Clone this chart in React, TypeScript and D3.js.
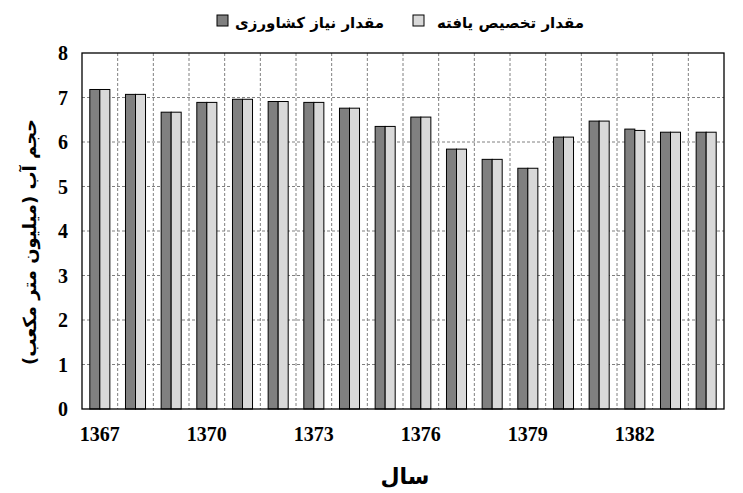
import React, { useEffect, useRef } from 'react';
import * as d3 from 'd3';

const years = [1367, 1368, 1369, 1370, 1371, 1372, 1373, 1374, 1375, 1376, 1377, 1378, 1379, 1380, 1381, 1382, 1383, 1384];
const needValues = [7.18, 7.07, 6.67, 6.89, 6.96, 6.91, 6.89, 6.76, 6.35, 6.56, 5.84, 5.61, 5.41, 6.11, 6.47, 6.29, 6.22, 6.22];
const allocValues = [7.18, 7.07, 6.67, 6.89, 6.96, 6.91, 6.89, 6.76, 6.35, 6.56, 5.84, 5.61, 5.41, 6.11, 6.47, 6.26, 6.22, 6.22];
const yTicks = [0, 1, 2, 3, 4, 5, 6, 7, 8];
const xTickYears = [1367, 1370, 1373, 1376, 1379, 1382];
const seriesNames = ['مقدار نیاز کشاورزی', 'مقدار تخصیص یافته'];
const yTitle = 'حجم آب (میلیون متر مکعب)';
const xTitle = 'سال';

const App: React.FC = () => {
  const svgRef = useRef<SVGSVGElement>(null);

  useEffect(() => {
    const svg = d3.select(svgRef.current);
    svg.selectAll('*').remove();

    const W = 743, H = 493;
    const margin = { top: 53, right: 19, bottom: 84, left: 82 };
    const width = W - margin.left - margin.right;
    const height = H - margin.top - margin.bottom;
    const num = "'Liberation Serif', 'Times New Roman', serif";
    const fa = "'DejaVu Sans', sans-serif";
    const dark = '#808080';
    const light = '#d9d9d9';

    svg.attr('width', W).attr('height', H);
    const g = svg.append('g').attr('transform', `translate(${margin.left},${margin.top})`);

    const x0 = d3.scaleBand<number>().domain(years).range([0, width]).padding(0);
    const x1 = d3.scaleBand<string>().domain(['need', 'alloc']).range([0, x0.bandwidth()]).paddingInner(0).paddingOuter(0.78);
    const y = d3.scaleLinear().domain([0, 8]).range([height, 0]);

    // grid
    g.selectAll('.hgrid')
      .data(yTicks.filter(t => t > 0 && t < 8))
      .enter()
      .append('line')
      .attr('x1', 0).attr('x2', width)
      .attr('y1', d => y(d)).attr('y2', d => y(d))
      .attr('stroke', '#808080').attr('stroke-width', 1).attr('stroke-dasharray', '3,2');

    g.selectAll('.vgrid')
      .data(years.slice(1))
      .enter()
      .append('line')
      .attr('x1', d => x0(d) as number).attr('x2', d => x0(d) as number)
      .attr('y1', 0).attr('y2', height)
      .attr('stroke', '#808080').attr('stroke-width', 1).attr('stroke-dasharray', '3,2');

    // bars
    const groups = g.selectAll('.bar-group')
      .data(years)
      .enter()
      .append('g')
      .attr('transform', d => `translate(${x0(d)},0)`);

    groups.append('rect')
      .attr('x', x1('need') as number)
      .attr('y', (_d, i) => y(needValues[i]))
      .attr('width', x1.bandwidth())
      .attr('height', (_d, i) => height - y(needValues[i]))
      .attr('fill', dark).attr('stroke', '#000').attr('stroke-width', 1);

    groups.append('rect')
      .attr('x', x1('alloc') as number)
      .attr('y', (_d, i) => y(allocValues[i]))
      .attr('width', x1.bandwidth())
      .attr('height', (_d, i) => height - y(allocValues[i]))
      .attr('fill', light).attr('stroke', '#000').attr('stroke-width', 1);

    // plot border
    g.append('rect')
      .attr('width', width).attr('height', height)
      .attr('fill', 'none').attr('stroke', '#000').attr('stroke-width', 1.3);

    // y tick labels
    g.selectAll('.ytick')
      .data(yTicks)
      .enter()
      .append('text')
      .attr('x', -14)
      .attr('y', d => y(d))
      .attr('dy', '0.35em')
      .attr('text-anchor', 'end')
      .style('font-family', num).style('font-weight', 'bold').style('font-size', '20px')
      .text(d => d);

    // x tick labels
    g.selectAll('.xtick')
      .data(xTickYears)
      .enter()
      .append('text')
      .attr('x', d => (x0(d) as number) + x0.bandwidth() / 2)
      .attr('y', height + 32)
      .attr('text-anchor', 'middle')
      .style('font-family', num).style('font-weight', 'bold').style('font-size', '20px')
      .text(d => d);

    // axis titles
    svg.append('text')
      .attr('transform', `translate(36,${margin.top + height / 2 + 11}) rotate(-90)`)
      .attr('text-anchor', 'middle')
      .attr('direction', 'rtl')
      .style('font-family', fa).style('font-weight', 'bold').style('font-size', '18px')
      .text(yTitle);

    svg.append('text')
      .attr('x', 405)
      .attr('y', 484)
      .attr('text-anchor', 'middle')
      .style('font-family', fa).style('font-weight', 'bold').style('font-size', '22px')
      .text(xTitle);

    // legend
    const legendItems = [
      { label: seriesNames[0], color: dark, box: 217, textRight: 384 },
      { label: seriesNames[1], color: light, box: 413, textRight: 584 }
    ];
    legendItems.forEach(item => {
      svg.append('rect')
        .attr('x', item.box).attr('y', 15)
        .attr('width', 11).attr('height', 11)
        .attr('fill', item.color).attr('stroke', '#000').attr('stroke-width', 1);
      svg.append('text')
        .attr('x', item.textRight)
        .attr('y', 28)
        .attr('text-anchor', 'start')
        .attr('direction', 'rtl')
        .style('font-family', fa).style('font-weight', 'bold').style('font-size', '15px')
        .text(item.label);
    });
  }, []);

  return (
    <div style={{ position: 'absolute', left: 0, top: 0, background: '#fff' }}>
      <svg ref={svgRef}></svg>
    </div>
  );
};

export default App;
